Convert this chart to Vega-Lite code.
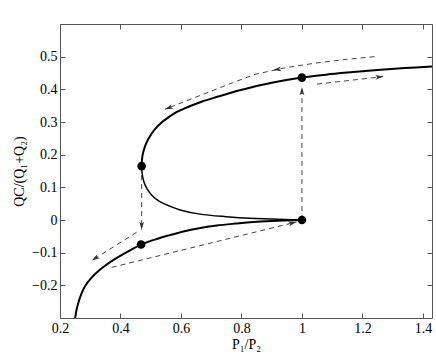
{
  "$schema": "https://vega.github.io/schema/vega-lite/v6.json",
  "width": 372,
  "height": 294,
  "autosize": {"type": "none"},
  "padding": {"left": 60, "top": 24, "right": 4, "bottom": 41},
  "background": "white",
  "config": {
    "view": {"stroke": null},
    "axis": {
      "grid": false,
      "labelFont": "Liberation Serif",
      "labelFontSize": 14,
      "labelColor": "#000",
      "titleFont": "Liberation Serif",
      "titleFontSize": 14,
      "titleFontWeight": "normal",
      "titleColor": "#000",
      "domainColor": "#555",
      "tickColor": "#555",
      "tickSize": -5
    }
  },
  "datasets": {
    "curve": [
      {"branch": "lower", "order": 1, "x": 0.2492, "y": -0.305},
      {"branch": "lower", "order": 2, "x": 0.25, "y": -0.3},
      {"branch": "lower", "order": 3, "x": 0.2536, "y": -0.28},
      {"branch": "lower", "order": 4, "x": 0.2586, "y": -0.26},
      {"branch": "lower", "order": 5, "x": 0.2652, "y": -0.24},
      {"branch": "lower", "order": 6, "x": 0.2734, "y": -0.22},
      {"branch": "lower", "order": 7, "x": 0.2848, "y": -0.2},
      {"branch": "lower", "order": 8, "x": 0.3008, "y": -0.18},
      {"branch": "lower", "order": 9, "x": 0.3222, "y": -0.16},
      {"branch": "lower", "order": 10, "x": 0.349, "y": -0.14},
      {"branch": "lower", "order": 11, "x": 0.381, "y": -0.12},
      {"branch": "lower", "order": 12, "x": 0.4182, "y": -0.1},
      {"branch": "lower", "order": 13, "x": 0.4665, "y": -0.076},
      {"branch": "lower", "order": 14, "x": 0.52, "y": -0.058},
      {"branch": "lower", "order": 15, "x": 0.56, "y": -0.047},
      {"branch": "lower", "order": 16, "x": 0.608, "y": -0.035},
      {"branch": "lower", "order": 17, "x": 0.66, "y": -0.025},
      {"branch": "lower", "order": 18, "x": 0.718, "y": -0.017},
      {"branch": "lower", "order": 19, "x": 0.78, "y": -0.011},
      {"branch": "lower", "order": 20, "x": 0.828, "y": -0.007},
      {"branch": "lower", "order": 21, "x": 0.9, "y": -0.003},
      {"branch": "lower", "order": 22, "x": 1.0, "y": 0.0},
      {"branch": "middle", "order": 1, "x": 1.0, "y": 0.0},
      {"branch": "middle", "order": 2, "x": 0.9, "y": 0.003},
      {"branch": "middle", "order": 3, "x": 0.828, "y": 0.005},
      {"branch": "middle", "order": 4, "x": 0.75, "y": 0.01},
      {"branch": "middle", "order": 5, "x": 0.663, "y": 0.018},
      {"branch": "middle", "order": 6, "x": 0.6, "y": 0.03},
      {"branch": "middle", "order": 7, "x": 0.564, "y": 0.042},
      {"branch": "middle", "order": 8, "x": 0.53, "y": 0.056},
      {"branch": "middle", "order": 9, "x": 0.505, "y": 0.074},
      {"branch": "middle", "order": 10, "x": 0.488, "y": 0.095},
      {"branch": "middle", "order": 11, "x": 0.477, "y": 0.118},
      {"branch": "middle", "order": 12, "x": 0.472, "y": 0.14},
      {"branch": "middle", "order": 13, "x": 0.47, "y": 0.165},
      {"branch": "upper", "order": 1, "x": 0.47, "y": 0.165},
      {"branch": "upper", "order": 2, "x": 0.471, "y": 0.185},
      {"branch": "upper", "order": 3, "x": 0.475, "y": 0.207},
      {"branch": "upper", "order": 4, "x": 0.482, "y": 0.228},
      {"branch": "upper", "order": 5, "x": 0.492, "y": 0.248},
      {"branch": "upper", "order": 6, "x": 0.514, "y": 0.278},
      {"branch": "upper", "order": 7, "x": 0.535, "y": 0.298},
      {"branch": "upper", "order": 8, "x": 0.558, "y": 0.314},
      {"branch": "upper", "order": 9, "x": 0.585, "y": 0.33},
      {"branch": "upper", "order": 10, "x": 0.613, "y": 0.342},
      {"branch": "upper", "order": 11, "x": 0.668, "y": 0.362},
      {"branch": "upper", "order": 12, "x": 0.723, "y": 0.378},
      {"branch": "upper", "order": 13, "x": 0.773, "y": 0.392},
      {"branch": "upper", "order": 14, "x": 0.828, "y": 0.405},
      {"branch": "upper", "order": 15, "x": 0.9, "y": 0.42},
      {"branch": "upper", "order": 16, "x": 1.0, "y": 0.436},
      {"branch": "upper", "order": 17, "x": 1.08, "y": 0.445},
      {"branch": "upper", "order": 18, "x": 1.16, "y": 0.452},
      {"branch": "upper", "order": 19, "x": 1.25, "y": 0.459},
      {"branch": "upper", "order": 20, "x": 1.34, "y": 0.465},
      {"branch": "upper", "order": 21, "x": 1.43, "y": 0.47}
    ],
    "dash": [
      {"arrow": "A", "order": 1, "x": 1.24, "y": 0.5},
      {"arrow": "A", "order": 2, "x": 1.15, "y": 0.492},
      {"arrow": "A", "order": 3, "x": 1.05, "y": 0.481},
      {"arrow": "A", "order": 4, "x": 0.95, "y": 0.467},
      {"arrow": "A", "order": 5, "x": 0.845, "y": 0.446},
      {"arrow": "A", "order": 6, "x": 0.77, "y": 0.42},
      {"arrow": "A", "order": 7, "x": 0.66, "y": 0.38},
      {"arrow": "A", "order": 8, "x": 0.547, "y": 0.339},
      {"arrow": "B", "order": 1, "x": 1.05, "y": 0.416},
      {"arrow": "B", "order": 2, "x": 1.269, "y": 0.439},
      {"arrow": "C", "order": 1, "x": 1.0, "y": 0.0},
      {"arrow": "C", "order": 2, "x": 1.0, "y": 0.406},
      {"arrow": "D", "order": 1, "x": 0.47, "y": 0.165},
      {"arrow": "D", "order": 2, "x": 0.47, "y": -0.03},
      {"arrow": "E", "order": 1, "x": 0.453, "y": -0.038},
      {"arrow": "E", "order": 2, "x": 0.305, "y": -0.124},
      {"arrow": "F", "order": 1, "x": 0.371, "y": -0.145},
      {"arrow": "F", "order": 2, "x": 0.982, "y": -0.006}
    ],
    "heads": [
      {"id": "A1", "x": 0.905, "y": 0.459},
      {"id": "A2", "x": 0.547, "y": 0.339},
      {"id": "B", "x": 1.269, "y": 0.439},
      {"id": "C", "x": 1.0, "y": 0.406},
      {"id": "D", "x": 0.47, "y": -0.03},
      {"id": "E", "x": 0.305, "y": -0.124},
      {"id": "F", "x": 0.982, "y": -0.006}
    ],
    "pts": [
      {"x": 0.47, "y": 0.165},
      {"x": 0.468, "y": -0.075},
      {"x": 1.0, "y": 0.0},
      {"x": 1.0, "y": 0.436}
    ]
  },
  "resolve": {"axis": {"x": "independent", "y": "independent"}},
  "layer": [
    {
      "encoding": {
        "x": {
          "field": "x", "type": "quantitative",
          "scale": {"domain": [0.2, 1.43], "nice": false, "zero": false},
          "axis": {
            "orient": "bottom", "title": "P₁/P₂",
            "values": [0.2, 0.4, 0.6, 0.8, 1, 1.2, 1.4],
            "labelExpr": "format(datum.value, '.1~f')",
            "labelPadding": 8, "titlePadding": 2, "labelFlush": false
          }
        },
        "y": {
          "field": "y", "type": "quantitative",
          "scale": {"domain": [-0.3, 0.6], "nice": false, "zero": false},
          "axis": {
            "orient": "left", "title": "QC/(Q₁+Q₂)",
            "values": [-0.2, -0.1, 0, 0.1, 0.2, 0.3, 0.4, 0.5],
            "labelExpr": "format(datum.value, '.1~f')",
            "labelPadding": 8, "titlePadding": 5
          }
        }
      },
      "layer": [
        {
          "data": {"name": "dash"},
          "mark": {"type": "line", "color": "#444", "strokeWidth": 1, "strokeDash": [5, 4], "clip": true},
          "encoding": {"detail": {"field": "arrow"}, "order": {"field": "order"}}
        },
        {
          "data": {"name": "curve"},
          "transform": [{"filter": "datum.branch != 'middle'"}],
          "mark": {"type": "line", "color": "#000", "strokeWidth": 2, "interpolate": "catmull-rom", "clip": true},
          "encoding": {"detail": {"field": "branch"}, "order": {"field": "order"}}
        },
        {
          "data": {"name": "curve"},
          "transform": [{"filter": "datum.branch == 'middle'"}],
          "mark": {"type": "line", "color": "#000", "strokeWidth": 1.5, "interpolate": "catmull-rom", "clip": true},
          "encoding": {"order": {"field": "order"}}
        },
        {
          "data": {"name": "heads"},
          "transform": [{"filter": "datum.id == 'A1'"}],
          "mark": {"type": "point", "shape": "M0,0L0.6,2L0,1.5L-0.6,2Z", "filled": true, "color": "#333", "opacity": 1, "size": 64, "angle": 261}
        },
        {
          "data": {"name": "heads"},
          "transform": [{"filter": "datum.id == 'A2'"}],
          "mark": {"type": "point", "shape": "M0,0L0.6,2L0,1.5L-0.6,2Z", "filled": true, "color": "#333", "opacity": 1, "size": 64, "angle": 249}
        },
        {
          "data": {"name": "heads"},
          "transform": [{"filter": "datum.id == 'B'"}],
          "mark": {"type": "point", "shape": "M0,0L0.6,2L0,1.5L-0.6,2Z", "filled": true, "color": "#333", "opacity": 1, "size": 64, "angle": 84}
        },
        {
          "data": {"name": "heads"},
          "transform": [{"filter": "datum.id == 'C'"}],
          "mark": {"type": "point", "shape": "M0,0L0.6,2L0,1.5L-0.6,2Z", "filled": true, "color": "#333", "opacity": 1, "size": 64, "angle": 0}
        },
        {
          "data": {"name": "heads"},
          "transform": [{"filter": "datum.id == 'D'"}],
          "mark": {"type": "point", "shape": "M0,0L0.6,2L0,1.5L-0.6,2Z", "filled": true, "color": "#333", "opacity": 1, "size": 64, "angle": 180}
        },
        {
          "data": {"name": "heads"},
          "transform": [{"filter": "datum.id == 'E'"}],
          "mark": {"type": "point", "shape": "M0,0L0.6,2L0,1.5L-0.6,2Z", "filled": true, "color": "#333", "opacity": 1, "size": 64, "angle": 238}
        },
        {
          "data": {"name": "heads"},
          "transform": [{"filter": "datum.id == 'F'"}],
          "mark": {"type": "point", "shape": "M0,0L0.6,2L0,1.5L-0.6,2Z", "filled": true, "color": "#333", "opacity": 1, "size": 64, "angle": 76}
        },
        {
          "data": {"name": "pts"},
          "mark": {"type": "circle", "color": "#000", "opacity": 1, "size": 75}
        }
      ]
    },
    {
      "data": {"name": "pts"},
      "mark": {"type": "point", "opacity": 0},
      "encoding": {
        "x": {
          "field": "x", "type": "quantitative",
          "axis": {"orient": "top", "title": null, "labels": false, "values": [0.2, 0.4, 0.6, 0.8, 1, 1.2, 1.4]}
        },
        "y": {
          "field": "y", "type": "quantitative",
          "axis": {"orient": "right", "title": null, "labels": false, "values": [-0.2, -0.1, 0, 0.1, 0.2, 0.3, 0.4, 0.5]}
        }
      }
    }
  ]
}
